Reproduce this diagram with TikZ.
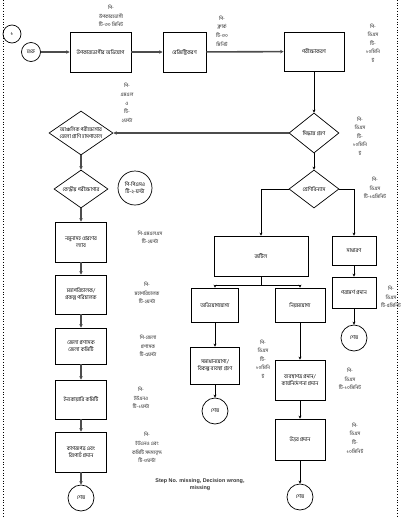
\documentclass[tikz,border=0pt]{standalone}
\usepackage{fontspec}
\setmainfont[Script=Bengali]{Hind Siliguri}
\newfontfamily\latfont{Liberation Sans}
\usetikzlibrary{shapes.geometric,arrows.meta}
\begin{document}
\begin{tikzpicture}[x=1pt,y=-1pt,
  every node/.style={font=\fontsize{5.3}{7}\selectfont, align=center, inner sep=0.5pt},
  box/.style={draw, line width=0.7pt, rectangle},
  dia/.style={draw, line width=0.7pt, diamond, inner sep=0pt},
  term/.style={draw, line width=0.7pt, circle, inner sep=0pt},
  lbl/.style={font=\fontsize{5}{8.6}\selectfont, text=black!85},
  heavy/.style={draw=black!70, line width=1.6pt, -{Stealth[length=3.5pt,width=3.5pt]}},
  mid/.style={draw=black!70, line width=1.1pt, -{Stealth[length=3.5pt,width=3.5pt]}},
  thin/.style={draw=black, line width=0.7pt, -{Stealth[length=3pt,width=3pt]}}
]
\useasboundingbox (0,0) rectangle (402,517);
% dotted side borders
\draw[dotted, line width=0.7pt] (3,0) -- (3,517);
\draw[dotted, line width=0.7pt] (397,0) -- (397,517);

% top row
\node[term, minimum size=18pt] (one) at (12,34) {১};
\node[term, minimum size=19pt] (start) at (31,52) {শুরু};
\node[box, minimum width=61pt, minimum height=40pt] (b1) at (100.5,52) {উপকারভোগীর অভিযোগ};
\node[box, minimum width=43pt, minimum height=40pt] (b2) at (184.5,52) {রেজিস্ট্রিকরণ};
\node[box, minimum width=60pt, minimum height=39pt] (b3) at (314,51.5) {পরীক্ষাকরণ};
\node[dia, minimum width=50pt, minimum height=40pt, aspect=1.25] (d1) at (314,133) {সিদ্ধান্ত গ্রহণ};

% left column
\node[dia, minimum width=64pt, minimum height=44pt, aspect=1.45] (dl) at (81,133) {আঞ্চলিক পরীক্ষাগার\\জেলা প্রাণি হাসপাতাল};
\node[dia, minimum width=54pt, minimum height=38pt, aspect=1.42] (d2) at (81,189) {কেন্দ্রীয় পরীক্ষাগার};
\node[term, minimum size=34pt] (psso) at (135,188) {পি-পিএসও\\টি-২-ঘন্টা};
\node[box, minimum width=51pt, minimum height=40pt] (l1) at (81,242) {নমুনাসহ প্রেরণের\\ল্যাব};
\node[box, minimum width=51pt, minimum height=39pt] (l2) at (81,294.5) {মহাপরিচালক/\\প্রকল্প পরিচালক};
\node[box, minimum width=51pt, minimum height=36pt] (l3) at (81,346) {জেলা প্রশাসক\\জেলা কমিটি};
\node[box, minimum width=51pt, minimum height=39pt] (l4) at (81,399.5) {ইনকোয়ারি কমিটি};
\node[box, minimum width=51pt, minimum height=40pt] (l5) at (81,452) {কাগজপত্র এবং\\রিপোর্ট প্রদান};
\node[term, minimum size=26pt] (e1) at (81,498) {শেষ};

% right part
\node[dia, minimum width=50pt, minimum height=38pt, aspect=1.3] (d3) at (314,189) {শ্রেণিবিন্যাস};
\node[box, minimum width=94pt, minimum height=40pt] (jt) at (261,256) {জটিল};
\node[box, minimum width=44pt, minimum height=29pt] (sd) at (354,250.5) {সাধারণ};
\node[box, minimum width=44pt, minimum height=31pt] (pr) at (354,292.5) {পরামর্শ প্রদান};
\node[term, minimum size=26pt] (e2) at (354,338) {শেষ};
\node[box, minimum width=47pt, minimum height=34pt] (ab) at (215,305) {অভিযোগযোগ্য};
\node[box, minimum width=50pt, minimum height=34pt] (nm) at (300,305) {নিয়মযোগ্য};
\node[box, minimum width=49pt, minimum height=37pt] (sm) at (215,365.5) {সমাধানযোগ্য/\\বিকল্প ব্যবস্থা গ্রহণ};
\node[term, minimum size=26pt] (e3) at (215,411) {শেষ};
\node[box, minimum width=50pt, minimum height=40pt] (bp) at (300,380) {ব্যবস্থাপত্র প্রদান/\\কার্যনির্দেশনা প্রদান};
\node[box, minimum width=50pt, minimum height=41pt] (ut) at (300,439.5) {উত্তর প্রদান};
\node[term, minimum size=26pt] (e4) at (300,497) {শেষ};

% labels
\node[lbl] (lb1) at (111,16) {পি-\\উপকারভোগী\\টি-৩০ মিনিট};
\node[lbl] (lb2) at (222,31) {পি-\\ক্লার্ক\\টি-৩০\\মিনিট};
\node[lbl] (lb3) at (373,43) {পি-\\ডিএস\\টি-\\১০মিনি\\ট};
\node[lbl] (lb4) at (360,136) {পি-\\ডিএস\\টি-\\১০মিনি\\ট};
\node[lbl] (lb5) at (127,103) {পি-\\এমএল\\ও\\টি-\\২ঘন্টা};
\node[lbl] (lb6) at (375,188) {পি-\\ডিএস\\টি-১৫মিনিট};
\node[lbl] (lb7) at (150,237.5) {পি-এমএলএস\\টি-২ঘন্টা};
\node[lbl] (lb8) at (147,293) {পি-\\মহাপরিচালক\\টি-২ঘন্টা};
\node[lbl] (lb9) at (148,346) {পি-জেলা\\প্রশাসক\\টি-৫ঘন্টা};
\node[lbl] (lb10) at (141,398) {পি-\\ইউএনও\\টি-১ঘন্টা};
\node[lbl] (lb11) at (147,447.5) {পি-\\ইউএনও এবং\\কমিটি সদস্যবৃন্দ\\টি-৩ঘন্টা};
\node[lbl] (lb12) at (391,297) {পি-\\ডিএস\\টি-৫মিনিট};
\node[lbl] (lb13) at (263,359) {পি-\\ডিএস\\টি-\\১০মিনি\\ট};
\node[lbl] (lb14) at (350,379) {পি-\\ডিএস\\টি-১০মিনিট};
\node[lbl] (lb15) at (355,438) {পি-\\ডিএস\\টি-\\১০মিনিট};
\node[font=\latfont\bfseries\fontsize{5.4}{7}\selectfont, text=black!80] (note) at (200,485) {Step No. missing, Decision wrong,\\missing};

% connectors
\draw[heavy] (start) -- (b1);
\draw[heavy] (b1) -- (b2);
\draw[heavy] (b2) -- (b3);
\draw[thin] (b3) -- (d1);
\draw[heavy] (d1.west) -- (dl.east);
\draw[mid] (dl) -- (d2);
\draw[mid] (d2) -- (l1);
\draw[mid] (l1) -- (l2);
\draw[mid] (l2) -- (l3);
\draw[mid] (l3) -- (l4);
\draw[mid] (l4) -- (l5);
\draw[mid] (l5) -- (e1);
\draw[thin] (d1) -- (d3);
\draw[thin] (d3.west) -| (jt.north);
\draw[thin] (d3.east) -| (sd.north);
\draw[thin] (sd) -- (pr);
\draw[thin] (pr) -- (e2);
\draw[thin] (jt.south) -- ++(0,9) -| (ab.north);
\draw[thin] (jt.south) -- ++(0,9) -| (nm.north);
\draw[thin] (ab) -- (sm);
\draw[thin] (sm) -- (e3);
\draw[thin] (nm) -- (bp);
\draw[thin] (bp) -- (ut);
\draw[thin] (ut) -- (e4);
\end{tikzpicture}
\end{document}
